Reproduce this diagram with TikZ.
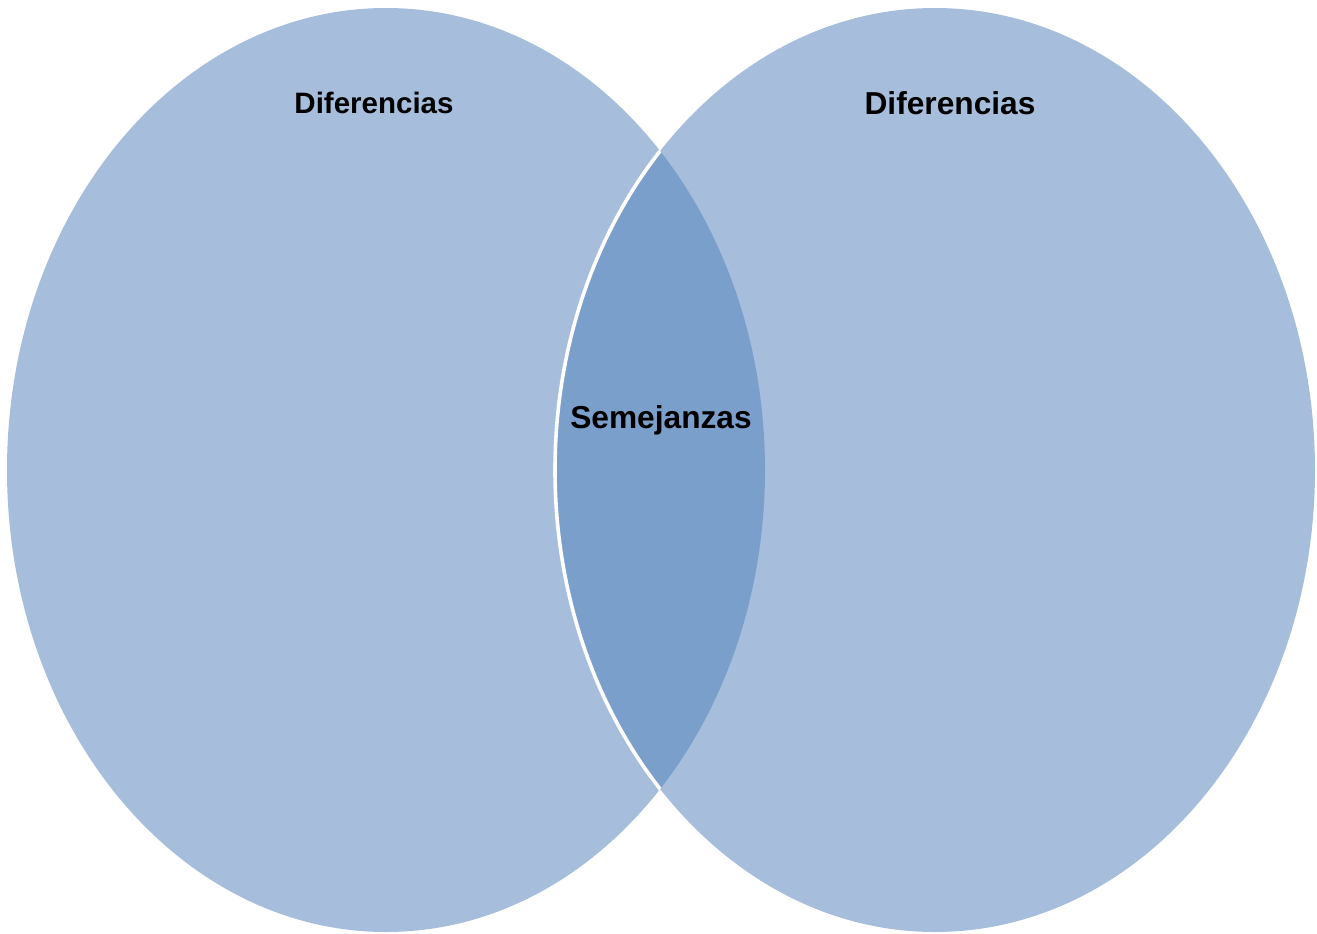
\documentclass[tikz,border=0pt]{standalone}
\usepackage{fontspec}
\setmainfont{Liberation Sans}
\definecolor{vlight}{HTML}{A6BEDC}
\definecolor{vdark}{HTML}{7B9FCB}
\tikzset{
  lbl/.style={font=\bfseries, text=black, inner sep=0pt, anchor=center},
}
\begin{document}
\begin{tikzpicture}[x=1pt,y=-1pt]
\useasboundingbox (0,0) rectangle (1317,934);
% circles
\fill[vlight] (386,470) ellipse [x radius=379, y radius=462];
\fill[vlight] (935,470) ellipse [x radius=380, y radius=462];
% intersection
\begin{scope}
  \clip (386,470) ellipse [x radius=379, y radius=462];
  \fill[vdark] (935,470) ellipse [x radius=380, y radius=462];
  \draw[white, line width=3.6pt] (935,470) ellipse [x radius=380, y radius=462];
\end{scope}
% labels
\node[lbl, font=\fontsize{29.5}{32}\selectfont\bfseries] (difL) at (374,103) {Diferencias};
\node[lbl, font=\fontsize{31.7}{34}\selectfont\bfseries] (difR) at (950,103) {Diferencias};
\node[lbl, font=\fontsize{31.7}{34}\selectfont\bfseries] (sem) at (661,420) {Semejanzas};
\end{tikzpicture}
\end{document}
